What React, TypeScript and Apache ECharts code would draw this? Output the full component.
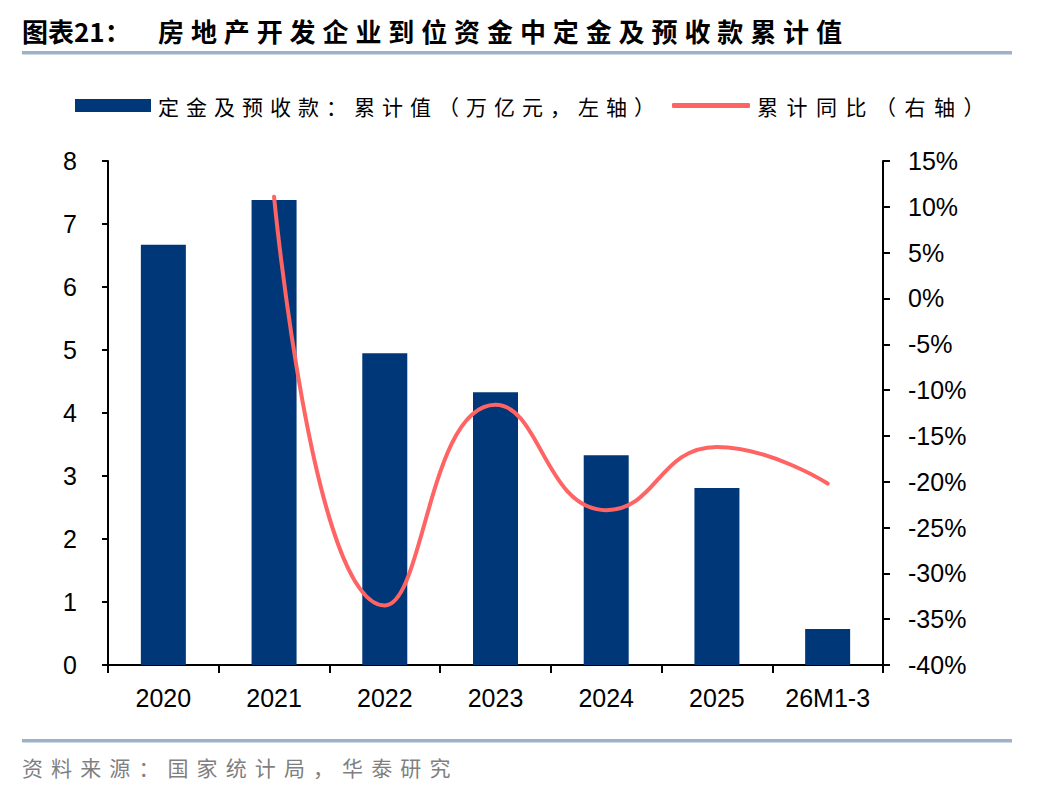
import React, { useEffect, useRef } from "react";
import * as echarts from "echarts";

const categories = ["2020", "2021", "2022", "2023", "2024", "2025", "26M1-3"];
const depositValues = [6.67, 7.38, 4.95, 4.33, 3.33, 2.81, 0.57];
const yoyValues: (number | null)[] = [null, 11.1, -33.5, -11.6, -23.1, -16.2, -20.2];
const leftTicks = { min: 0, max: 8, interval: 1 };
const rightTicks = { min: -40, max: 15, interval: 5 };

const barName = "定金及预收款：累计值（万亿元，左轴）";
const lineName = "累计同比（右轴）";
const titlePrefix = "图表21：";
const titleText = "房地产开发企业到位资金中定金及预收款累计值";
const sourceText = "资料来源：国家统计局，华泰研究";

const BAR_COLOR = "#003778";
const LINE_COLOR = "#FF6464";
const RULE_COLOR = "#9DB1C9";
const CJK = "'Noto Sans CJK SC', sans-serif";
const LATIN = "'Liberation Sans', Arial, sans-serif";

const spacing: Record<string, string> = {
  [titleText]: "6.9px",
  [barName]: "7px",
  [lineName]: "8.5px",
  [sourceText]: "8.1px",
};

export default function App() {
  const ref = useRef<HTMLDivElement>(null);
  useEffect(() => {
    document.body.style.margin = "0";
    if (!ref.current) return;
    const chart = echarts.init(ref.current, undefined, { renderer: "svg" });
    chart.setOption({
      animation: false,
      backgroundColor: "#fff",
      grid: { left: 108, right: 165, top: 161, bottom: 127, containLabel: false },
      legend: [
        {
          left: 70,
          top: 90,
          itemWidth: 76,
          itemHeight: 13,
          itemGap: 0,
          textStyle: { fontFamily: CJK, fontSize: 21, color: "#000", padding: [0, 0, 0, 2] },
          data: [{ name: barName, icon: "rect" }],
        },
        {
          left: 667,
          top: 90,
          itemWidth: 78,
          itemHeight: 5,
          textStyle: { fontFamily: CJK, fontSize: 21, color: "#000", padding: [0, 0, 0, 2] },
          data: [{ name: lineName, icon: "roundRect" }],
        },
      ],
      xAxis: {
        type: "category",
        data: categories,
        boundaryGap: true,
        axisLine: { show: true, lineStyle: { color: "#000", width: 2 } },
        axisTick: { show: true, alignWithLabel: false, length: 8, lineStyle: { color: "#000", width: 2 } },
        axisLabel: { color: "#000", fontFamily: LATIN, fontSize: 25, margin: 20 },
        splitLine: { show: false },
      },
      yAxis: [
        {
          type: "value",
          min: leftTicks.min,
          max: leftTicks.max,
          interval: leftTicks.interval,
          position: "left",
          axisLine: { show: true, lineStyle: { color: "#000", width: 2 } },
          axisTick: { show: true, length: 6, lineStyle: { color: "#000", width: 2 } },
          axisLabel: { color: "#000", fontFamily: LATIN, fontSize: 25, margin: 31 },
          splitLine: { show: false },
        },
        {
          type: "value",
          min: rightTicks.min,
          max: rightTicks.max,
          interval: rightTicks.interval,
          position: "right",
          axisLine: { show: true, lineStyle: { color: "#000", width: 2 } },
          axisTick: { show: true, length: 7, lineStyle: { color: "#000", width: 2 } },
          axisLabel: {
            color: "#000",
            fontFamily: LATIN,
            fontSize: 25,
            margin: 25,
            formatter: (v: number) => `${v}%`,
          },
          splitLine: { show: false },
        },
      ],
      series: [
        {
          name: barName,
          type: "bar",
          data: depositValues,
          barWidth: 45,
          itemStyle: { color: BAR_COLOR },
          yAxisIndex: 0,
        },
        {
          name: lineName,
          type: "line",
          data: yoyValues,
          yAxisIndex: 1,
          smooth: 0.5,
          showSymbol: false,
          symbol: "none",
          lineStyle: { color: LINE_COLOR, width: 4, cap: "round" },
          itemStyle: { color: LINE_COLOR },
        },
      ],
      graphic: [
        {
          type: "text",
          left: 22,
          top: 17,
          style: { text: titlePrefix, fontFamily: CJK, fontSize: 26, fontWeight: "bold", fill: "#000" },
        },
        {
          type: "text",
          left: 158,
          top: 17,
          style: { text: titleText, fontFamily: CJK, fontSize: 26, fontWeight: "bold", fill: "#000" },
        },
        {
          type: "rect",
          shape: { x: 22, y: 51, width: 990, height: 3.5 },
          style: { fill: RULE_COLOR },
        },
        {
          type: "rect",
          shape: { x: 22, y: 739, width: 990, height: 3.5 },
          style: { fill: RULE_COLOR },
        },
        {
          type: "text",
          left: 22,
          top: 756,
          style: { text: sourceText, fontFamily: CJK, fontSize: 21, fill: "#7F7F7F" },
        },
      ],
    });
    const texts = ref.current.querySelectorAll("text");
    texts.forEach((t) => {
      const s = spacing[(t.textContent || "").trim()];
      if (s) t.setAttribute("letter-spacing", s);
    });
    return () => chart.dispose();
  }, []);
  return <div ref={ref} style={{ width: 1048, height: 792 }} />;
}
